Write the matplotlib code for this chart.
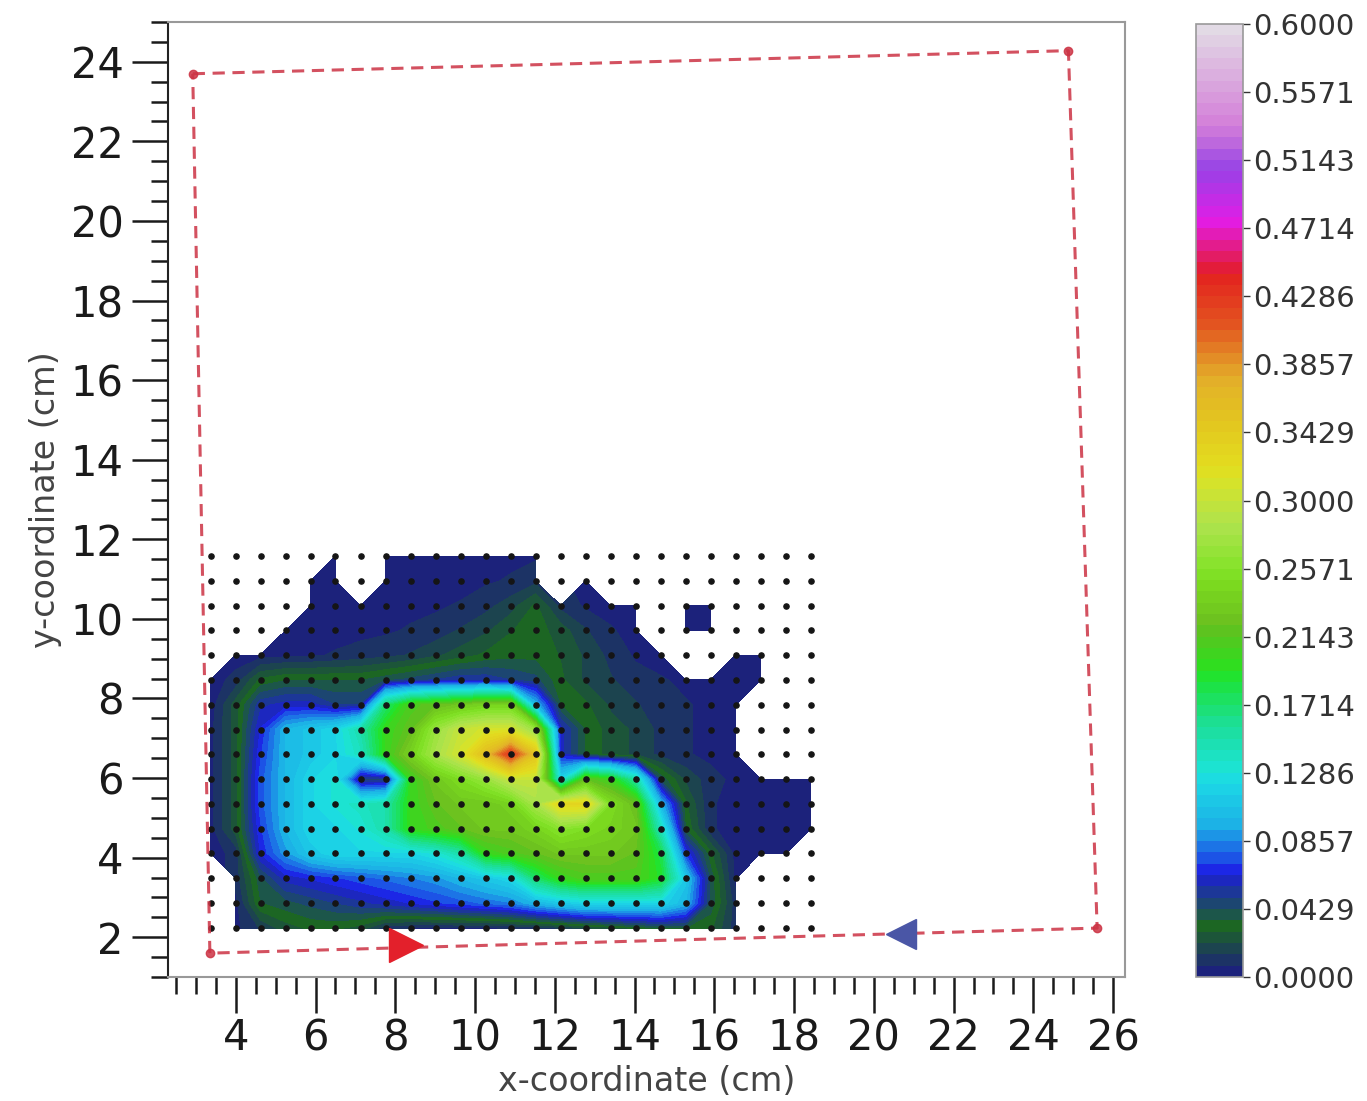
import matplotlib
matplotlib.use('Agg')
import matplotlib.pyplot as plt
import numpy as np
from matplotlib.colors import ListedColormap
from matplotlib.ticker import MultipleLocator

# measurement grid (cm)
x_grid = [3.37, 4.00, 4.62, 5.25, 5.88, 6.50, 7.13, 7.76, 8.39, 9.01, 9.64, 10.27,
          10.89, 11.52, 12.15, 12.77, 13.40, 14.03, 14.66, 15.28, 15.91, 16.54,
          17.16, 17.79, 18.42]
y_grid = [11.58, 10.96, 10.33, 9.71, 9.09, 8.47, 7.84, 7.22, 6.60, 5.97, 5.35,
          4.73, 4.11, 3.48, 2.86, 2.23]

nan = np.nan
# values, rows from top (y=11.58) to bottom (y=2.23)
values = [
    [nan, nan, nan, nan, nan, .002, nan, .002, .002, .003, .003, .004, .005, .006, nan, nan, nan, nan, nan, nan, nan, nan, nan, nan, nan],
    [nan, nan, nan, nan, .002, .002, nan, .002, .003, .003, .004, .006, .008, .012, nan, .003, nan, nan, nan, nan, nan, nan, nan, nan, nan],
    [nan, nan, nan, nan, .002, .003, .003, .004, .005, .006, .008, .012, .018, .030, .012, .006, .004, .002, nan, .003, .003, nan, nan, nan, nan],
    [nan, nan, nan, .002, .003, .004, .005, .006, .008, .010, .015, .020, .028, .032, .025, .015, .008, .004, nan, .003, .003, nan, nan, nan, nan],
    [nan, .003, .004, .005, .006, .008, .010, .012, .015, .020, .025, .030, .033, .033, .028, .020, .012, .006, .003, nan, nan, .003, .003, nan, nan],
    [.003, .010, .030, .035, .035, .035, .035, .040, .045, .050, .055, .055, .050, .045, .030, .020, .015, .010, .008, .005, .004, .003, .003, nan, nan],
    [.003, .025, .055, .060, .060, .050, .050, .170, .210, .220, .230, .240, .240, .100, .035, .030, .020, .015, .010, .008, .005, .003, nan, nan, nan],
    [.005, .025, .065, .100, .110, .120, .150, .200, .220, .270, .300, .310, .310, .270, .060, .035, .025, .020, .012, .008, .005, .003, nan, nan, nan],
    [.005, .025, .070, .100, .110, .120, .140, .200, .240, .280, .310, .360, .430, .350, .060, .035, .025, .020, .012, .008, .005, .003, nan, nan, nan],
    [.005, .025, .075, .100, .120, .130, .045, .045, .200, .230, .250, .270, .300, .300, .120, .220, .200, .150, .040, .020, .010, .005, .003, .003, .002],
    [.005, .025, .075, .100, .120, .130, .140, .150, .200, .220, .230, .230, .240, .280, .330, .330, .250, .220, .100, .030, .008, .004, .003, .003, .002],
    [.005, .025, .070, .100, .120, .120, .130, .150, .200, .210, .220, .230, .230, .240, .260, .250, .240, .230, .140, .035, .008, .004, .003, .003, .002],
    [.003, .010, .065, .090, .110, .120, .120, .120, .120, .130, .150, .200, .210, .220, .230, .230, .230, .220, .180, .070, .030, .004, .003, .003, nan],
    [nan, .010, .040, .060, .065, .070, .075, .080, .085, .090, .100, .110, .120, .170, .200, .210, .210, .210, .190, .110, .040, .004, nan, nan, nan],
    [nan, .005, .035, .040, .045, .050, .055, .060, .065, .070, .075, .080, .085, .100, .110, .120, .120, .120, .120, .100, .040, .010, nan, nan, nan],
    [nan, .005, .015, .025, .030, .030, .025, .010, .007, .006, .006, .006, .008, .010, .015, .020, .025, .030, .035, .035, .030, .010, nan, nan, nan],
]

# boundary path (dashed) and direction markers
path_x = [2.92, 24.88, 25.60, 3.35, 2.92]
path_y = [23.70, 24.28, 2.23, 1.60, 23.70]
fwd_x, fwd_y = [8.26], [1.80]
back_x, back_y = [20.67], [2.08]

cbar_ticks = [0.0, 0.0429, 0.0857, 0.1286, 0.1714, 0.2143, 0.2571, 0.3000,
              0.3429, 0.3857, 0.4286, 0.4714, 0.5143, 0.5571, 0.6000]


def muted_ncar():
    # gist_ncar, a little washed out like the printed figure
    base = plt.get_cmap('gist_ncar')(np.linspace(0, 1, 256))
    grey = np.array([0.5, 0.5, 0.55])
    base[:, :3] = base[:, :3] * 0.78 + grey * 0.22
    return ListedColormap(base)


def main():
    fig = plt.figure(figsize=(13.67, 11.01), dpi=100)
    ax = fig.add_axes([0.1229, 0.1126, 0.7001, 0.8674])
    cax = fig.add_axes([0.875, 0.1126, 0.0344, 0.8656])

    X, Y = np.meshgrid(x_grid, y_grid)
    Z = np.ma.masked_invalid(np.array(values))
    levels = np.linspace(0, 0.6, 85)
    cs = ax.contourf(X, Y, Z, levels=levels, cmap=muted_ncar())

    # grid points
    ax.scatter(X.ravel(), Y.ravel(), s=14, color='#151515', zorder=3)

    # dashed path with corner points
    ax.plot(path_x, path_y, linestyle=(0, (4, 2.5)), color='#cc3344', lw=2.2,
            alpha=0.85, marker='o', markersize=6, markevery=[0, 1, 2, 3], zorder=4)
    ax.plot(fwd_x, fwd_y, marker='>', markersize=24, color='#e3202b', ls='none', zorder=5)
    ax.plot(back_x, back_y, marker='<', markersize=22, color='#4a56a6', ls='none', zorder=5)

    ax.set_xlim(2.3, 26.3)
    ax.set_ylim(1.0, 25.0)
    ax.set_xticks(np.arange(4, 27, 2))
    ax.set_yticks(np.arange(2, 25, 2))
    ax.xaxis.set_minor_locator(MultipleLocator(0.5))
    ax.yaxis.set_minor_locator(MultipleLocator(0.5))

    ax.tick_params(which='major', length=26, width=1.8, labelsize=30, pad=3,
                   colors='#1a1a1a')
    ax.tick_params(which='minor', length=12, width=1.8, colors='#1a1a1a')
    ax.tick_params(axis='y', which='major', pad=6)

    for s in ['top', 'right', 'bottom']:
        ax.spines[s].set_color('#999999')
        ax.spines[s].set_linewidth(1.5)
    ax.spines['left'].set_color('#222222')
    ax.spines['left'].set_linewidth(1.5)

    ax.set_xlabel('x-coordinate (cm)', fontsize=24, color='#444444', labelpad=4)
    ax.set_ylabel('y-coordinate (cm)', fontsize=24, color='#444444', labelpad=6)

    cb = fig.colorbar(cs, cax=cax, ticks=cbar_ticks, format='%.4f')
    cb.outline.set_edgecolor('#999999')
    cb.outline.set_linewidth(1.2)
    cax.tick_params(labelsize=21, length=5, width=1, colors='#333333', pad=2)

    fig.savefig('out.png', dpi=100)


if __name__ == '__main__':
    main()
